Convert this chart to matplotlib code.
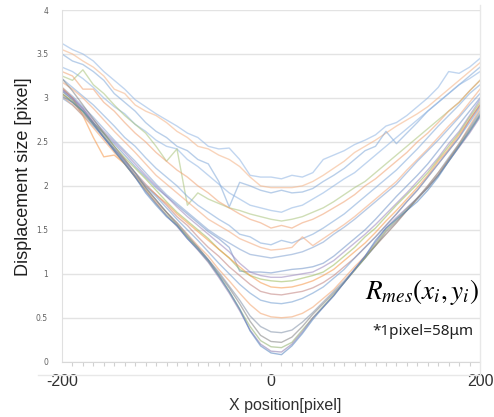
import matplotlib
matplotlib.use('Agg')
from matplotlib import pyplot as plt
from matplotlib.lines import Line2D

x_pos = list(range(-200, 201, 10))

# displacement per scan row (top row first)
disp_01 = [3.62, 3.55, 3.50, 3.42, 3.30, 3.20, 3.10, 2.98, 2.90, 2.82, 2.75, 2.68, 2.60, 2.55, 2.45, 2.42, 2.43, 2.30, 2.12, 2.10, 2.10,
           2.08, 2.12, 2.10, 2.15, 2.30, 2.35, 2.40, 2.47, 2.52, 2.58, 2.68, 2.72, 2.80, 2.90, 3.00, 3.12, 3.30, 3.28, 3.35, 3.45]
disp_02 = [3.55, 3.50, 3.42, 3.35, 3.25, 3.10, 3.05, 2.92, 2.85, 2.80, 2.72, 2.62, 2.55, 2.45, 2.42, 2.35, 2.30, 2.22, 2.10, 2.00, 1.98,
           1.98, 1.98, 2.00, 2.05, 2.12, 2.20, 2.28, 2.38, 2.45, 2.52, 2.60, 2.68, 2.75, 2.82, 2.90, 3.00, 3.10, 3.20, 3.30, 3.40]
disp_03 = [3.50, 3.42, 3.38, 3.30, 3.20, 3.05, 2.95, 2.85, 2.72, 2.62, 2.55, 2.45, 2.40, 2.30, 2.25, 2.05, 1.76, 2.04, 2.00, 1.95, 1.92,
           1.95, 1.92, 1.93, 1.97, 2.05, 2.12, 2.20, 2.30, 2.40, 2.45, 2.62, 2.48, 2.60, 2.72, 2.85, 2.95, 3.05, 3.15, 3.25, 3.35]
disp_04 = [3.35, 3.30, 3.22, 3.12, 3.00, 2.90, 2.82, 2.70, 2.62, 2.52, 2.45, 2.42, 2.30, 2.22, 2.12, 2.02, 1.92, 1.85, 1.78, 1.75, 1.72,
           1.70, 1.75, 1.78, 1.85, 1.92, 2.00, 2.08, 2.15, 2.25, 2.35, 2.45, 2.55, 2.65, 2.75, 2.85, 2.95, 3.05, 3.15, 3.22, 3.30]
disp_05 = [3.25, 3.20, 3.32, 3.15, 3.05, 2.92, 2.80, 2.70, 2.60, 2.45, 2.28, 2.42, 1.78, 1.92, 1.85, 1.80, 1.75, 1.72, 1.68, 1.65, 1.62,
           1.60, 1.62, 1.65, 1.70, 1.75, 1.82, 1.90, 1.98, 2.05, 2.15, 2.25, 2.35, 2.45, 2.55, 2.65, 2.75, 2.85, 2.95, 3.08, 3.20]
disp_06 = [3.30, 3.25, 3.10, 3.10, 2.95, 2.85, 2.72, 2.60, 2.50, 2.38, 2.28, 2.18, 2.10, 2.00, 1.92, 1.82, 1.75, 1.68, 1.62, 1.58, 1.52,
           1.55, 1.52, 1.58, 1.62, 1.68, 1.75, 1.82, 1.90, 2.00, 2.08, 2.18, 2.28, 2.38, 2.50, 2.60, 2.72, 2.85, 2.95, 3.08, 3.20]
disp_07 = [3.22, 3.12, 3.02, 2.92, 2.80, 2.68, 2.55, 2.45, 2.32, 2.20, 2.10, 2.00, 1.88, 1.78, 1.70, 1.62, 1.55, 1.45, 1.42, 1.35, 1.33,
           1.38, 1.35, 1.40, 1.45, 1.52, 1.60, 1.68, 1.78, 1.88, 1.98, 2.08, 2.18, 2.30, 2.42, 2.55, 2.68, 2.80, 2.92, 3.05, 3.15]
disp_08 = [3.18, 3.10, 3.00, 2.88, 2.75, 2.62, 2.50, 2.38, 2.25, 2.12, 2.02, 1.92, 1.82, 1.72, 1.62, 1.55, 1.48, 1.40, 1.35, 1.30, 1.27,
           1.28, 1.30, 1.42, 1.32, 1.40, 1.48, 1.56, 1.65, 1.75, 1.85, 1.95, 2.05, 2.18, 2.30, 2.42, 2.55, 2.68, 2.80, 2.95, 3.10]
disp_09 = [3.12, 3.02, 2.90, 2.78, 2.65, 2.52, 2.40, 2.28, 2.15, 2.02, 1.90, 1.80, 1.70, 1.60, 1.50, 1.42, 1.35, 1.28, 1.22, 1.20, 1.18,
           1.20, 1.22, 1.25, 1.30, 1.36, 1.45, 1.53, 1.62, 1.72, 1.82, 1.92, 2.02, 2.15, 2.28, 2.40, 2.52, 2.65, 2.78, 2.92, 3.05]
disp_10 = [3.08, 2.98, 2.85, 2.72, 2.60, 2.48, 2.35, 2.22, 2.10, 1.98, 1.88, 1.78, 1.68, 1.58, 1.48, 1.40, 1.30, 1.03, 1.02, 1.02, 1.01,
           1.03, 1.05, 1.06, 1.08, 1.12, 1.20, 1.30, 1.40, 1.50, 1.62, 1.75, 1.88, 2.00, 2.12, 2.25, 2.40, 2.55, 2.70, 2.85, 3.00]
disp_11 = [3.10, 3.00, 2.88, 2.75, 2.62, 2.50, 2.38, 2.25, 2.12, 2.00, 1.88, 1.76, 1.65, 1.55, 1.45, 1.35, 1.25, 1.12, 1.02, 0.98, 0.96,
           0.96, 0.98, 1.00, 1.02, 1.08, 1.15, 1.25, 1.35, 1.45, 1.56, 1.68, 1.80, 1.92, 2.05, 2.18, 2.32, 2.48, 2.62, 2.80, 2.98]
disp_12 = [3.05, 2.95, 2.85, 2.72, 2.60, 2.45, 2.32, 2.20, 2.08, 1.95, 1.82, 1.70, 1.60, 1.50, 1.40, 1.28, 1.18, 1.05, 0.98, 0.94, 0.92,
           0.91, 0.92, 0.95, 0.98, 1.02, 1.10, 1.20, 1.30, 1.42, 1.52, 1.65, 1.78, 1.90, 2.02, 2.15, 2.30, 2.45, 2.60, 2.78, 2.95]
disp_13 = [3.12, 3.00, 2.80, 2.55, 2.33, 2.35, 2.25, 2.12, 2.00, 1.90, 1.80, 1.68, 1.58, 1.48, 1.38, 1.28, 1.18, 1.08, 0.98, 0.90, 0.85,
           0.84, 0.85, 0.88, 0.92, 0.98, 1.05, 1.15, 1.25, 1.35, 1.47, 1.60, 1.72, 1.85, 1.98, 2.12, 2.28, 2.42, 2.58, 2.75, 2.92]
disp_14 = [3.05, 2.95, 2.82, 2.70, 2.55, 2.42, 2.30, 2.15, 2.02, 1.90, 1.78, 1.65, 1.55, 1.42, 1.30, 1.20, 1.08, 0.98, 0.88, 0.80, 0.77,
           0.76, 0.78, 0.80, 0.84, 0.90, 0.98, 1.08, 1.18, 1.30, 1.42, 1.55, 1.68, 1.82, 1.95, 2.10, 2.25, 2.40, 2.55, 2.75, 2.92]
disp_15 = [3.00, 2.92, 2.80, 2.68, 2.55, 2.42, 2.28, 2.15, 2.00, 1.88, 1.75, 1.62, 1.50, 1.38, 1.25, 1.12, 1.00, 0.88, 0.78, 0.70, 0.67,
           0.66, 0.68, 0.72, 0.78, 0.85, 0.95, 1.05, 1.18, 1.30, 1.42, 1.55, 1.68, 1.82, 1.95, 2.10, 2.25, 2.40, 2.55, 2.72, 2.90]
disp_16 = [3.02, 2.92, 2.80, 2.66, 2.52, 2.38, 2.25, 2.10, 1.96, 1.82, 1.70, 1.58, 1.45, 1.32, 1.20, 1.05, 0.92, 0.78, 0.65, 0.55, 0.51,
           0.50, 0.51, 0.55, 0.62, 0.72, 0.82, 0.95, 1.08, 1.20, 1.32, 1.45, 1.58, 1.72, 1.86, 2.00, 2.15, 2.30, 2.48, 2.68, 2.88]
disp_17 = [3.08, 2.98, 2.86, 2.72, 2.58, 2.42, 2.28, 2.12, 1.98, 1.84, 1.70, 1.58, 1.44, 1.30, 1.16, 1.02, 0.86, 0.70, 0.52, 0.40, 0.34,
           0.33, 0.36, 0.45, 0.56, 0.68, 0.80, 0.92, 1.05, 1.18, 1.32, 1.45, 1.58, 1.72, 1.86, 2.00, 2.15, 2.32, 2.48, 2.66, 2.85]
disp_18 = [3.22, 3.08, 2.92, 2.76, 2.60, 2.45, 2.30, 2.15, 1.98, 1.84, 1.70, 1.56, 1.42, 1.30, 1.16, 1.00, 0.84, 0.66, 0.46, 0.30, 0.23,
           0.22, 0.28, 0.40, 0.54, 0.66, 0.78, 0.90, 1.04, 1.18, 1.32, 1.48, 1.60, 1.72, 1.85, 1.98, 2.12, 2.30, 2.46, 2.64, 2.82]
disp_19 = [3.05, 2.96, 2.84, 2.70, 2.56, 2.40, 2.25, 2.10, 1.95, 1.80, 1.67, 1.55, 1.42, 1.28, 1.14, 0.98, 0.80, 0.60, 0.40, 0.24, 0.17,
           0.16, 0.22, 0.36, 0.50, 0.63, 0.76, 0.90, 1.04, 1.18, 1.34, 1.50, 1.62, 1.74, 1.86, 1.98, 2.12, 2.28, 2.45, 2.62, 2.80]
disp_20 = [3.10, 3.00, 2.88, 2.72, 2.55, 2.40, 2.26, 2.10, 1.94, 1.80, 1.66, 1.54, 1.40, 1.27, 1.13, 0.96, 0.78, 0.58, 0.36, 0.20, 0.12,
           0.11, 0.20, 0.34, 0.50, 0.62, 0.75, 0.90, 1.05, 1.20, 1.36, 1.52, 1.64, 1.75, 1.86, 1.98, 2.12, 2.28, 2.44, 2.60, 2.78]
disp_21 = [3.02, 2.95, 2.85, 2.70, 2.55, 2.40, 2.25, 2.10, 1.92, 1.78, 1.65, 1.55, 1.40, 1.28, 1.15, 0.98, 0.80, 0.60, 0.35, 0.18, 0.10,
           0.08, 0.18, 0.32, 0.48, 0.62, 0.75, 0.90, 1.05, 1.20, 1.38, 1.52, 1.62, 1.72, 1.82, 1.95, 2.10, 2.28, 2.45, 2.62, 2.80]

rows = [disp_01, disp_02, disp_03, disp_04, disp_05, disp_06, disp_07, disp_08, disp_09, disp_10, disp_11,
        disp_12, disp_13, disp_14, disp_15, disp_16, disp_17, disp_18, disp_19, disp_20, disp_21]
colors = ['#8FB4E3', '#F4B183', '#7FA7D8', '#8DB3E2', '#A8C37A', '#F0A070', '#7FA7D8', '#F2A77A', '#7FA0D0',
          '#6F93C8', '#9A86BE', '#9BBB59', '#F79646', '#C0807D', '#6E9BD0', '#F3A26B', '#7F8FA6', '#808080',
          '#8FAF6A', '#8A78AE', '#4F81BD']

plt.rcParams['mathtext.fontset'] = 'stix'

fig = plt.figure(figsize=(4.94, 4.17), dpi=100)
ax = fig.add_axes([0.1255, 0.1326, 0.8462, 0.8434])

for row, c in zip(rows, colors):
    ax.plot(x_pos, row, color=c, lw=1.0, alpha=0.55)

ax.set_xlim(-200, 200)
ax.set_ylim(0, 4)
ax.set_yticks([0, 0.5, 1, 1.5, 2, 2.5, 3, 3.5, 4])
ax.set_yticklabels(['0', '0.5', '1', '1.5', '2', '2.5', '3', '3.5', '4'])
ax.yaxis.grid(True, color='#E3E3E3', lw=1.0)
ax.set_axisbelow(True)
ax.tick_params(axis='y', length=0, pad=10, labelsize=5.5, labelcolor='#606060')

ax.set_xticks([-200, 0, 200])
ax.set_xticklabels(['-200', '0', '200'], fontfamily='Liberation Sans')
ax.set_xticks(x_pos, minor=True)
ax.tick_params(axis='x', which='major', length=0, pad=9, labelsize=11.5, labelcolor='#303030')
ax.tick_params(axis='x', which='minor', length=3, color='#D0D0D0', width=0.8)

for side in ['top', 'right']:
    ax.spines[side].set_visible(False)
ax.spines['left'].set_color('#E0E0E0')
ax.spines['bottom'].set_color('#D8D8D8')

ax.set_xlabel('X position[pixel]', fontsize=11.5, fontfamily='Liberation Sans', color='#303030')
ax.xaxis.set_label_coords(0.534, -0.104)
ax.set_ylabel('Displacement size [pixel]', fontsize=13, fontfamily='Liberation Sans', color='#202020')
ax.yaxis.set_label_coords(-0.072, 0.525)

# chart area border pieces
fig.add_artist(Line2D([38 / 494, 480 / 494], [1 - 375 / 417, 1 - 375 / 417], color='#E8E8E8', lw=1.0))
fig.add_artist(Line2D([480 / 494, 480 / 494], [1 - 5 / 417, 1 - 375 / 417], color='#E8E8E8', lw=1.0))

ax.text(0.998, 0.198, r'$R_{mes}(x_i,y_i)$', transform=ax.transAxes, ha='right', va='center', fontsize=19.5)
ax.text(0.984, 0.087, '*1pixel=58\u03bcm', transform=ax.transAxes, ha='right', va='center',
        fontsize=11, fontfamily='Noto Sans', color='#202020')

fig.savefig('out.png', dpi=100)
